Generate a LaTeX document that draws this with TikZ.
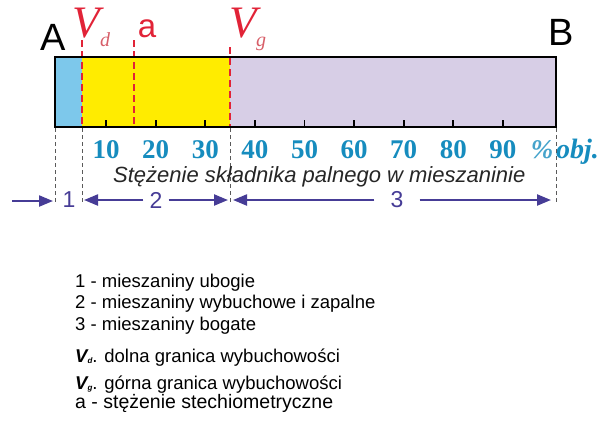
\documentclass[tikz,border=0pt]{standalone}
\usepackage{fontspec}
\setmainfont{Liberation Serif}
\setsansfont{Liberation Sans}
\usetikzlibrary{arrows.meta}
\definecolor{lblue}{RGB}{125,200,235}
\definecolor{ylw}{RGB}{255,236,0}
\definecolor{lav}{RGB}{215,206,230}
\definecolor{numc}{RGB}{22,140,190}
\definecolor{arrc}{RGB}{70,60,150}
\definecolor{redc}{RGB}{225,35,55}
\definecolor{pinkc}{RGB}{215,95,105}
\definecolor{dgray}{RGB}{90,90,90}
\newcommand{\fsz}[1]{\fontsize{#1bp}{#1bp}\selectfont}
\tikzset{
  reddash/.style={draw=redc, line width=1.8bp, dash pattern=on 7bp off 4bp},
  greydash/.style={draw=dgray, line width=0.8bp, dash pattern=on 4bp off 3bp},
  tickmark/.style={draw=black, line width=1.8bp},
  num/.style={font=\rmfamily\bfseries\fsz{27}, text=numc, anchor=base, inner sep=0pt},
  arr/.style={draw=arrc, line width=2.2bp, -{Triangle[length=14bp,width=11bp]}},
  arrlbl/.style={font=\sffamily\fsz{23}, text=arrc, inner ysep=0pt},
  legend/.style={font=\sffamily\fsz{18.5}, anchor=base west, inner sep=0pt},
  endlbl/.style={font=\sffamily\fsz{38}, anchor=base, inner sep=0pt},
  bigV/.style={font=\rmfamily\itshape\fsz{45}, text=redc, anchor=base, inner sep=0pt},
  subV/.style={font=\rmfamily\itshape\fsz{20}, text=pinkc, anchor=base, inner sep=0pt}
}
\begin{document}
\begin{tikzpicture}[x=1bp,y=-1bp]
\useasboundingbox (0,0) rectangle (604,424);
% bar regions
\fill[lblue] (55,57) rectangle (82,127);
\fill[ylw] (82,57) rectangle (230,127);
\fill[lav] (230,57) rectangle (556,127);
% red dashed markers
\coordinate (vdtop) at (82,40);  \coordinate (vdbot) at (82,127);
\coordinate (atop) at (134,40);  \coordinate (abot) at (134,127);
\coordinate (vgtop) at (230,47); \coordinate (vgbot) at (230,127);
\draw[reddash] (vdtop) -- (vdbot);
\draw[reddash] (atop) -- (abot);
\draw[reddash] (vgtop) -- (vgbot);
% bar border
\draw[line width=2bp] (55,57) rectangle (556,127);
% ticks and numbers
\foreach \p in {10,20,...,90}{
  \draw[tickmark] ({56.5+4.96*\p},127) -- ({56.5+4.96*\p},120);
  \node[num] (n\p) at ({56.5+4.96*\p},158) {\p};
}
\node[num, text=numc!80] (pct) at (542,158) {\itshape\%};
\node[num, anchor=base west, font=\rmfamily\bfseries\itshape\fsz{28}] (obj) at (556,158) {obj.};
% grey dashed boundaries
\coordinate (g1a) at (55,128);  \coordinate (g1b) at (55,205);
\coordinate (g2a) at (82,128);  \coordinate (g2b) at (82,205);
\coordinate (g3a) at (230,128); \coordinate (g3b) at (230,205);
\coordinate (g4a) at (556,128); \coordinate (g4b) at (556,205);
\draw[greydash] (g1a) -- (g1b);
\draw[greydash] (g2a) -- (g2b);
\draw[greydash] (g3a) -- (g3b);
\draw[greydash] (g4a) -- (g4b);
% axis title
\node[font=\sffamily\itshape\fsz{22}, anchor=base west, inner sep=0pt, text=black!85] (title) at (113,182) {Stężenie składnika palnego w mieszaninie};
% region arrows
\coordinate (s1) at (12,201); \coordinate (t1) at (53,201);
\draw[arr] (s1) -- (t1);
\node[arrlbl, inner xsep=0pt] (l1) at (69,200) {1};
\node[arrlbl, inner xsep=6bp] (l2) at (156,200) {2};
\coordinate (t2l) at (84,200); \coordinate (t2r) at (228,200);
\draw[arr] (l2.west) -- (t2l);
\draw[arr] (l2.east) -- (t2r);
\node[arrlbl, inner xsep=16bp] (l3) at (397,200) {3};
\coordinate (t3l) at (233,200); \coordinate (t3r) at (551,200);
\draw[arr] (l3.west) -- (t3l);
\draw[arr] (l3.east) -- (t3r);
% end labels
\node[endlbl] (A) at (53,50) {A};
\node[endlbl] (B) at (561,45) {B};
% top labels
\node[bigV] (Vd) at (86,37) {V};
\node[subV] (Vdsub) at (105,46) {d};
\node[font=\sffamily\fsz{33}, text=redc, anchor=base, inner sep=0pt] (alab) at (147,37) {a};
\node[bigV] (Vg) at (243,37) {V};
\node[subV] (Vgsub) at (261,46) {g};
% legend
\node[legend] (L1) at (75,287) {1 - mieszaniny ubogie};
\node[legend] (L2) at (75,308) {2 - mieszaniny wybuchowe i zapalne};
\node[legend] (L3) at (75,330) {3 - mieszaniny bogate};
\node[legend] (L4) at (75,362) {{\bfseries\itshape V}\raisebox{-1.5bp}{\fsz{8}\bfseries\itshape d}. dolna granica wybuchowości};
\node[legend] (L5) at (75,389) {{\bfseries\itshape V}\raisebox{-1.5bp}{\fsz{8}\bfseries\itshape g}. górna granica wybuchowości};
\node[legend, font=\sffamily\fsz{19.5}] (L6) at (75,408) {a - stężenie stechiometryczne};
\end{tikzpicture}
\end{document}
